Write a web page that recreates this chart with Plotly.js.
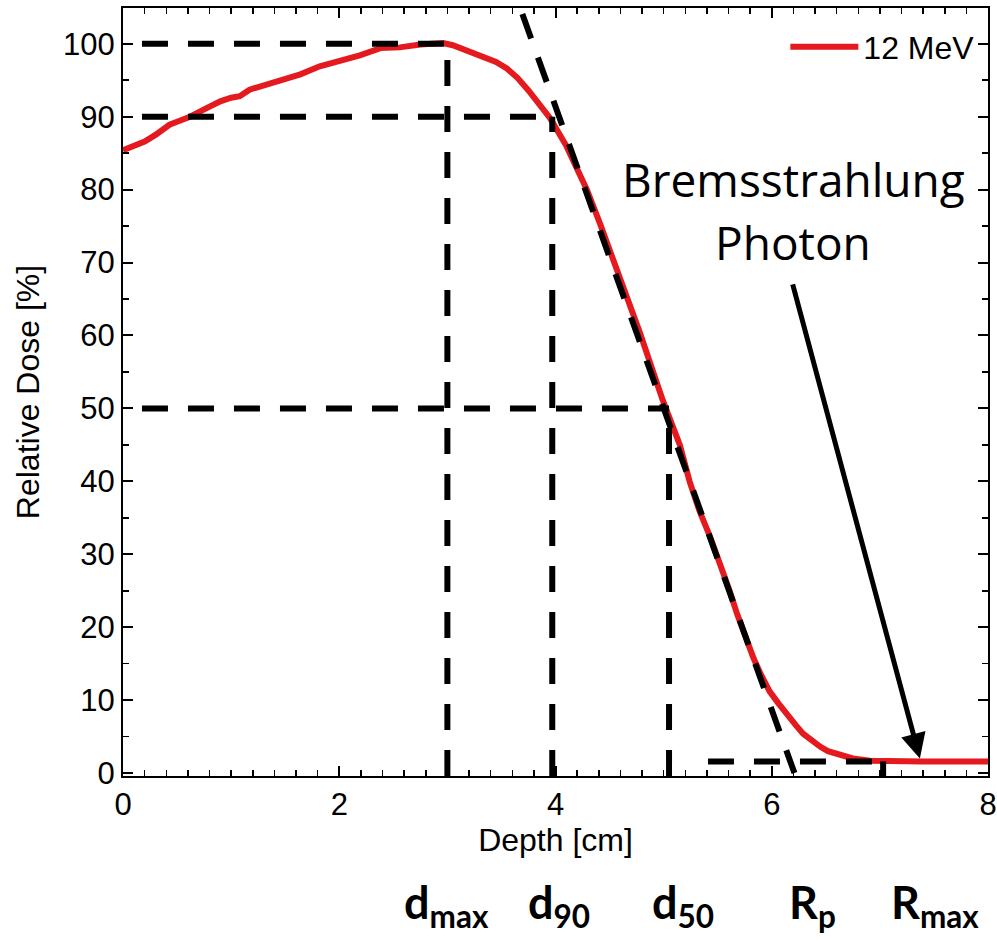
<!DOCTYPE html>
<html><head><meta charset="utf-8">
<script src="https://cdn.plot.ly/plotly-3.0.1.min.js"></script>
<style>html,body{margin:0;padding:0;background:#fff;}#chart{width:997px;height:941px;}</style>
</head><body><div id="chart"></div>
<script>
// ---- data ----
const depth = [0.0,0.1,0.2,0.3,0.43,0.5,0.62,0.75,0.9,1.0,1.08,1.17,1.36,1.5,1.64,1.82,2.0,2.19,2.38,2.56,2.75,2.96,3.05,3.12,3.3,3.45,3.55,3.65,3.75,3.85,3.95,4.1,4.2,4.29,4.41,4.56,4.78,4.99,5.06,5.15,5.24,5.33,5.43,5.52,5.61,5.68,5.76,5.83,5.9,5.98,6.06,6.14,6.22,6.29,6.37,6.45,6.52,6.6,6.75,6.91,7.1,7.4,7.7,8.0];
const dose  = [85.4,85.9,86.6,87.5,88.9,89.3,90.0,91.0,92.1,92.6,92.8,93.7,94.6,95.1,95.8,96.9,97.6,98.4,99.4,99.5,99.9,100.1,99.8,99.4,98.5,97.5,96.6,95.3,93.6,91.8,89.8,86.0,83.0,80.0,75.4,69.5,60.4,51.2,48.6,45.0,40.0,36.0,32.4,28.8,25.0,21.8,18.3,15.8,13.5,11.2,9.6,8.0,6.6,5.4,4.4,3.6,3.0,2.6,2.0,1.7,1.6,1.6,1.6,1.6];
const seriesName = '12 MeV';
const refLabels = ['d<sub>max</sub>','d<sub>90</sub>','d<sub>50</sub>','R<sub>p</sub>','R<sub>max</sub>'];
const refDepth  = [3.0, 3.97, 5.05, 6.2, 7.03];
const refDose   = [100, 90, 50, 0, 1.6];
const tangentDepth = [3.55, 6.21];
const tangentDose  = [110, 0];
const tailStartDepth = 5.41;
const arrowTail = [6.19, 67.2];
const arrowHead = [7.37, 2.0];
const noteLines = ['Bremsstrahlung', 'Photon'];
const xTicks = [0, 2, 4, 6, 8];
const yTicks = [0, 10, 20, 30, 40, 50, 60, 70, 80, 90, 100];

// ---- styles ----
const X0 = -0.25, Y0 = -0.4;
const dashStyle = {color: '#000', width: 6, dash: '26px,20px'};
const labelShift = [-1, 7, 14, 19, 52];
const tickFont = {family: 'Liberation Sans, Arial, sans-serif', size: 31, color: '#000'};
const titleFont = {family: 'Liberation Sans, Arial, sans-serif', size: 32, color: '#000'};
const noteFont = {family: 'Open Sans, sans-serif', size: 46, color: '#000'};

const traces = [];
traces.push({x: depth, y: dose, mode: 'lines', name: seriesName,
  line: {color: '#e41a1f', width: 6}, showlegend: true});

function dashed(xs, ys) {
  traces.push({x: xs, y: ys, mode: 'lines', line: dashStyle, showlegend: false, hoverinfo: 'skip'});
}
for (let i = 0; i < 3; i++) {
  dashed([X0, refDepth[i]], [refDose[i], refDose[i]]);
  dashed([refDepth[i], refDepth[i]], [Y0, refDose[i]]);
}
dashed(tangentDepth, tangentDose);
dashed([tailStartDepth, refDepth[4]], [refDose[4], refDose[4]]);
dashed([refDepth[4], refDepth[4]], [Y0, refDose[4]]);

const annotations = [];
annotations.push({x: arrowHead[0], y: arrowHead[1], ax: arrowTail[0], ay: arrowTail[1],
  xref: 'x', yref: 'y', axref: 'x', ayref: 'y', text: '', showarrow: true,
  arrowhead: 2, arrowsize: 1.0, arrowwidth: 5, arrowcolor: '#000'});
annotations.push({x: 6.2, y: 81.4, xref: 'x', yref: 'y', text: noteLines[0], showarrow: false,
  font: noteFont, xanchor: 'center', yanchor: 'middle'});
annotations.push({x: 6.2, y: 72.8, xref: 'x', yref: 'y', text: noteLines[1], showarrow: false,
  font: noteFont, xanchor: 'center', yanchor: 'middle'});
refLabels.forEach((t, i) => {
  annotations.push({x: refDepth[i], y: -0.168, xref: 'x', yref: 'paper', text: '<b>' + t + '</b>',
    showarrow: false, xanchor: 'center', yanchor: 'middle', xshift: labelShift[i],
    font: {family: 'Lato, Open Sans, sans-serif', size: 45, color: '#000'}});
});

const axisCommon = {
  showgrid: false, zeroline: false, showline: true, linecolor: '#000', linewidth: 2,
  mirror: 'ticks', ticks: 'inside', ticklen: 10, tickwidth: 2, tickcolor: '#000',
  tickfont: tickFont
};

const layout = {
  width: 997, height: 941,
  margin: {l: 123, r: 9, t: 8, b: 165},
  paper_bgcolor: '#fff', plot_bgcolor: '#fff',
  showlegend: true,
  legend: {x: 0.99, y: 0.985, xanchor: 'right', yanchor: 'top', bgcolor: 'rgba(0,0,0,0)',
    font: titleFont, itemwidth: 68},
  xaxis: Object.assign({}, axisCommon, {
    range: [0, 8], tickvals: xTicks, ticktext: xTicks.map(String),
    minor: {dtick: 0.2, tick0: 0, ticks: 'inside', ticklen: 6, tickwidth: 1.5, tickcolor: '#000'},
    title: {text: 'Depth [cm]', font: titleFont, standoff: 6}
  }),
  yaxis: Object.assign({}, axisCommon, {
    range: [Y0, 104.9], tickvals: yTicks, ticktext: yTicks.map(String),
    minor: {dtick: 5, tick0: 0, ticks: 'inside', ticklen: 6, tickwidth: 1.5, tickcolor: '#000'},
    title: {text: 'Relative Dose [%]', font: titleFont, standoff: 14}
  }),
  annotations: annotations
};

Plotly.newPlot('chart', traces, layout, {displayModeBar: false, staticPlot: true});
</script></body></html>
